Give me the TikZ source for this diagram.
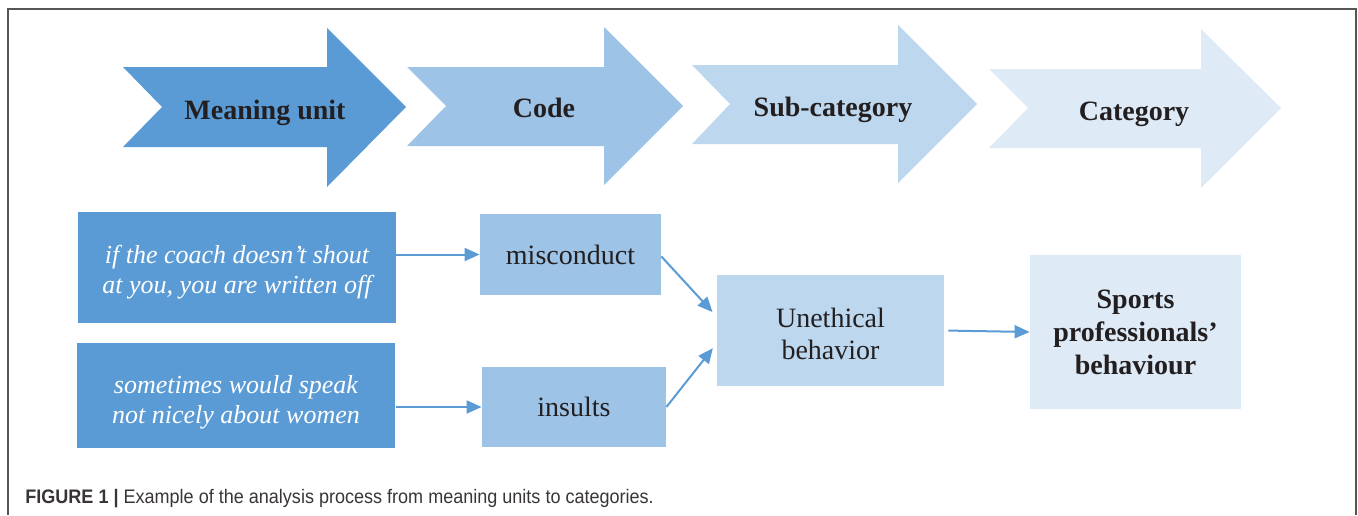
\documentclass[tikz,border=0pt]{standalone}
\usepackage{fontspec}
\setmainfont{Liberation Serif}
\setsansfont{Liberation Sans}
\newfontfamily\captionfont[FakeStretch=0.92]{Liberation Sans}
\usepackage{tikz}
\usetikzlibrary{arrows.meta, positioning, calc}
\definecolor{BlueDark}{HTML}{5B9BD5}
\definecolor{BlueMid}{HTML}{9DC3E6}
\definecolor{BlueLight}{HTML}{BDD7EE}
\definecolor{BluePale}{HTML}{DEEBF7}
\definecolor{TextBlack}{HTML}{231F20}
\definecolor{FrameGray}{HTML}{555555}
\tikzset{
    % Step labels on the big arrows
    steplabel/.style={
        font=\fontsize{14}{17}\selectfont\bfseries,
        text=TextBlack,
        anchor=base,
        inner sep=0pt
    },
    % Boxes - all with sharp corners
    unitbox/.style={
        rectangle,
        draw=none,
        fill=BlueDark,
        text=white,
        align=center,
        font=\fontsize{13}{15}\selectfont\itshape
    },
    codebox/.style={
        rectangle,
        draw=none,
        fill=BlueMid,
        text=TextBlack,
        align=center,
        font=\fontsize{14}{16}\selectfont
    },
    subbox/.style={
        rectangle,
        draw=none,
        fill=BlueLight,
        text=TextBlack,
        align=center,
        font=\fontsize{14}{16}\selectfont
    },
    catbox/.style={
        rectangle,
        draw=none,
        fill=BluePale,
        text=TextBlack,
        align=center,
        font=\fontsize{14}{16.5}\selectfont\bfseries
    },
    % Arrow styles
    myarrow/.style={
        -{Triangle[length=7.5pt,width=6.5pt]},
        line width=1pt,
        BlueDark
    }
}
\begin{document}
\begin{tikzpicture}[x=0.5pt, y=-0.5pt]
    \useasboundingbox (0,0) rectangle (1358,515);
    % frame
    \draw[FrameGray, line width=0.8pt] (8,515) -- (8,9) -- (1356,9) -- (1356,515);

    % big arrows
    \fill[BlueDark] (123,67) -- (327,67) -- (327,28) -- (406,107) -- (327,187) -- (327,147) -- (123,147) -- (162,107) -- cycle;
    \fill[BlueMid] (407,67) -- (604,67) -- (604,27) -- (683,106) -- (604,185) -- (604,146) -- (407,146) -- (446,106) -- cycle;
    \fill[BlueLight] (692,65) -- (898,65) -- (898,25) -- (977,104) -- (898,183) -- (898,144) -- (692,144) -- (730,104) -- cycle;
    \fill[BluePale] (989,69) -- (1201,69) -- (1201,29) -- (1281,108) -- (1201,188) -- (1201,148) -- (989,148) -- (1028,108) -- cycle;

    \node[steplabel] (meaning) at (265,119) {Meaning unit};
    \node[steplabel] (code) at (544,117) {Code};
    \node[steplabel] (subcat) at (833,116) {Sub-category};
    \node[steplabel] (cat) at (1134,120) {Category};

    % boxes
    \node[unitbox, minimum width=159pt, minimum height=55.5pt] (mu1) at (237,267.5) {\rule{0pt}{14pt}if the coach doesn’t shout\\at you, you are written off};
    \node[unitbox, minimum width=159pt, minimum height=52.5pt] (mu2) at (236,395.5) {\rule{0pt}{16pt}sometimes would speak\\not nicely about women};
    \node[codebox, minimum width=90.5pt, minimum height=40.5pt] (misc) at (570.5,254.5) {misconduct};
    \node[codebox, minimum width=92pt, minimum height=40pt] (ins) at (574,407) {insults};
    \node[subbox, minimum width=113.5pt, minimum height=55.5pt] (une) at (830.5,330.5) {\rule{0pt}{13pt}Unethical\\behavior};
    \node[catbox, minimum width=105.5pt, minimum height=77pt] (spo) at (1135.5,332) {Sports\\professionals’\\behaviour};

    \draw[myarrow] (mu1.east |- misc.west) -- (misc.west);
    \draw[myarrow] (mu2.east |- ins.west) ++(1,0) -- (ins.west);
    \draw[myarrow, shorten >=3pt] ([yshift=-1pt]misc.east) -- ([yshift=7pt]une.west);
    \draw[myarrow, shorten >=3pt] (ins.east) -- ([yshift=-6.5pt]une.west);
    \draw[myarrow, shorten <=2pt] (une.east) -- (spo.west);

    % caption
    \node[anchor=base west, inner sep=0pt, text=TextBlack!90, font=\captionfont\fontsize{9.8}{12}\selectfont] (caption) at (25,503)
        {\textbf{FIGURE 1 |} Example of the analysis process from meaning units to categories.};
\end{tikzpicture}
\end{document}
